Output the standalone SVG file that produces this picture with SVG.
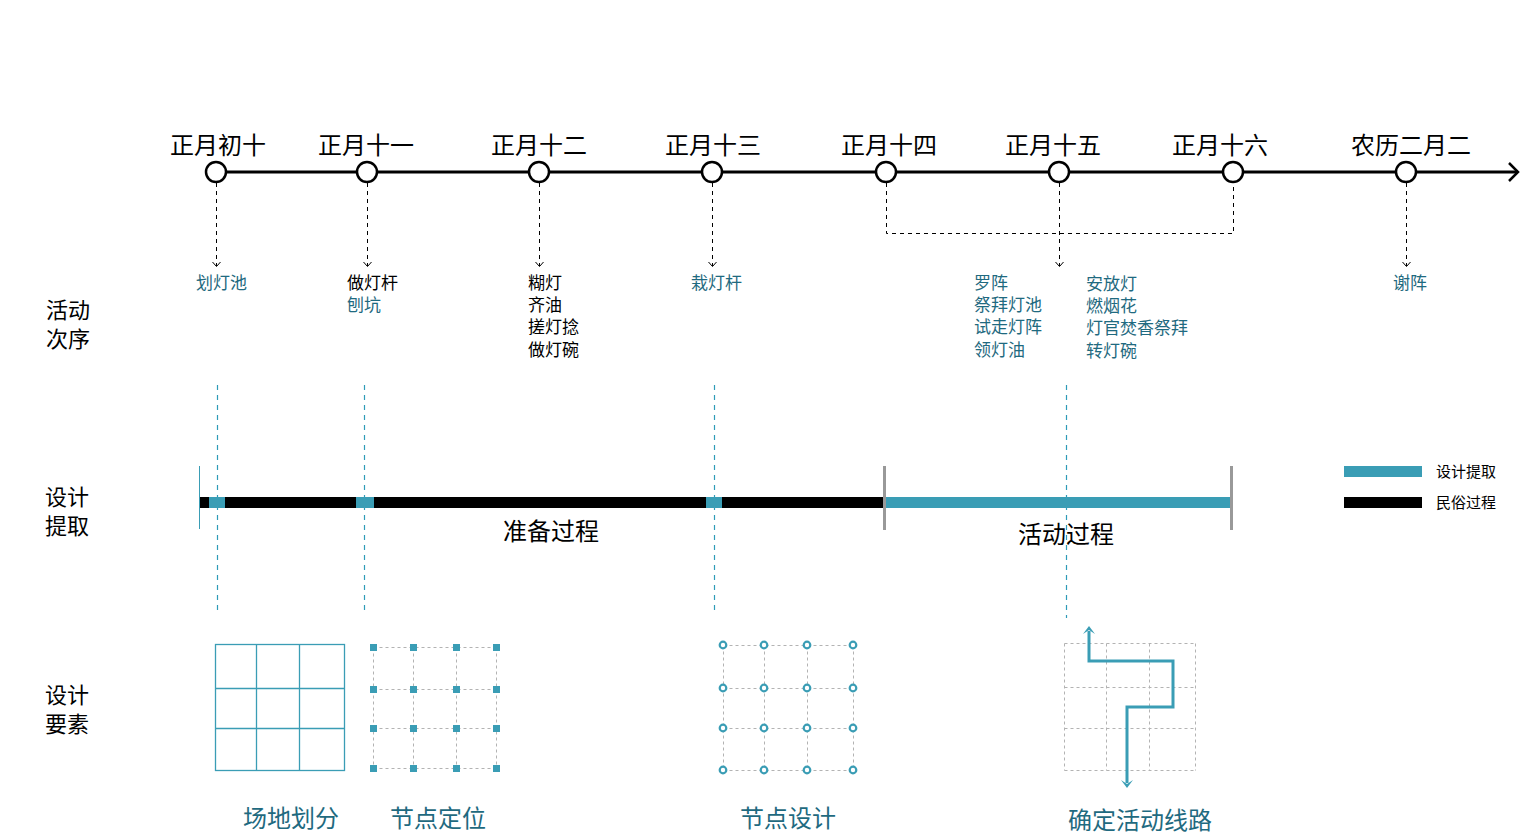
<svg xmlns="http://www.w3.org/2000/svg" width="1522" height="836" viewBox="0 0 1522 836">
<style>
text{font-family:"Noto Sans CJK SC","Noto Sans CJK JP",sans-serif;}
.date{font-size:24px;fill:#000;text-anchor:middle;}
.act{font-size:17px;fill:#1f6a80;}
.actb{font-size:17px;fill:#000;}
.side{font-size:22px;fill:#000;}
.proc{font-size:24px;fill:#000;text-anchor:middle;}
.leg{font-size:15px;fill:#000;}
.cap{font-size:24px;fill:#1f6a80;text-anchor:middle;}
.node{fill:#fff;stroke:#000;stroke-width:2.5;}
.dash{fill:none;stroke:#000;stroke-width:1;stroke-dasharray:4 4;}
.chev{fill:none;stroke:#000;stroke-width:1;}
.tdash{fill:none;stroke:#2f9bb8;stroke-width:1.2;stroke-dasharray:5 5;}
.gdash{fill:none;stroke:#b3b3b3;stroke-width:1;stroke-dasharray:3 3;}
.tick{stroke:#999;stroke-width:3;}
.grid{fill:none;stroke:#3a9db5;stroke-width:1.3;}
.sq{fill:#3a9db5;}
.ring{fill:#fff;stroke:#3a9db5;stroke-width:2.2;}
.tarr{fill:#3a9db5;}
</style>
<rect width="1522" height="836" fill="#fff"/>

<g id="connectors">
<line x1="216" y1="172" x2="1518" y2="172" stroke="#000" stroke-width="3"/>
<path d="M1509,163 L1518,172 L1509,181" fill="none" stroke="#000" stroke-width="2.5"/>
<path class="dash" d="M216.5,183 V266 M367.5,183 V266 M539.5,183 V266 M712.5,183 V266 M1059.5,183 V266 M1406.5,183 V266"/>
<path class="chev" d="M212.5,262 L216.5,266.5 L220.5,262 M363.5,262 L367.5,266.5 L371.5,262 M535.5,262 L539.5,266.5 L543.5,262 M708.5,262 L712.5,266.5 L716.5,262 M1055.5,262 L1059.5,266.5 L1063.5,262 M1402.5,262 L1406.5,266.5 L1410.5,262"/>
<path class="dash" d="M886.5,183 V233.5 H1233.5 V183"/>
<path class="tdash" d="M217.5,385 V615 M364.5,385 V615 M714.5,385 V615 M1066.5,385 V618"/>
</g>

<g id="dates">
<g id="d1"><circle class="node" cx="216" cy="172" r="10"/><text class="date" x="218" y="154">正月初十</text></g>
<g id="d2"><circle class="node" cx="367" cy="172" r="10"/><text class="date" x="366" y="154">正月十一</text></g>
<g id="d3"><circle class="node" cx="539" cy="172" r="10"/><text class="date" x="539" y="154">正月十二</text></g>
<g id="d4"><circle class="node" cx="712" cy="172" r="10"/><text class="date" x="713" y="154">正月十三</text></g>
<g id="d5"><circle class="node" cx="886" cy="172" r="10"/><text class="date" x="889" y="154">正月十四</text></g>
<g id="d6"><circle class="node" cx="1059" cy="172" r="10"/><text class="date" x="1053" y="154">正月十五</text></g>
<g id="d7"><circle class="node" cx="1233" cy="172" r="10"/><text class="date" x="1220" y="154">正月十六</text></g>
<g id="d8"><circle class="node" cx="1406" cy="172" r="10"/><text class="date" x="1411" y="154">农历二月二</text></g>
</g>

<g id="activities">
<text class="act" x="196" y="289">划灯池</text>
<text class="actb" x="347" y="289">做灯杆</text>
<text class="act" x="347" y="311">刨坑</text>
<text class="actb" x="528" y="289">糊灯</text>
<text class="actb" x="528" y="311">齐油</text>
<text class="actb" x="528" y="333">搓灯捻</text>
<text class="actb" x="528" y="356">做灯碗</text>
<text class="act" x="691" y="289">栽灯杆</text>
<text class="act" x="974" y="289">罗阵</text>
<text class="act" x="974" y="311">祭拜灯池</text>
<text class="act" x="974" y="333">试走灯阵</text>
<text class="act" x="974" y="356">领灯油</text>
<text class="act" x="1086" y="290">安放灯</text>
<text class="act" x="1086" y="312">燃烟花</text>
<text class="act" x="1086" y="334">灯官焚香祭拜</text>
<text class="act" x="1086" y="357">转灯碗</text>
<text class="act" x="1393" y="289">谢阵</text>
</g>

<g id="side-labels">
<text class="side" x="46" y="318">活动</text>
<text class="side" x="46" y="347">次序</text>
<text class="side" x="45" y="505">设计</text>
<text class="side" x="45" y="534">提取</text>
<text class="side" x="45" y="703">设计</text>
<text class="side" x="45" y="732">要素</text>
</g>

<g id="bar">
<line x1="199.5" y1="466" x2="199.5" y2="529" stroke="#3a9db5" stroke-width="1"/>
<rect x="200" y="497" width="684" height="11" fill="#000"/>
<rect x="209" y="497" width="16" height="11" fill="#3a9db5"/>
<rect x="356" y="497" width="18" height="11" fill="#3a9db5"/>
<rect x="706" y="497" width="16" height="11" fill="#3a9db5"/>
<rect x="884" y="497" width="347" height="11" fill="#3a9db5"/>
<line class="tick" x1="884.5" y1="466" x2="884.5" y2="530"/>
<line class="tick" x1="1231.5" y1="466" x2="1231.5" y2="530"/>
<text class="proc" x="551" y="540">准备过程</text>
<text class="proc" x="1066" y="543">活动过程</text>
</g>

<g id="legend">
<rect x="1344" y="466" width="78" height="11" fill="#3a9db5"/>
<text class="leg" x="1436" y="477">设计提取</text>
<rect x="1344" y="497" width="78" height="11" fill="#000"/>
<text class="leg" x="1436" y="508">民俗过程</text>
</g>

<g id="site-division">
<rect class="grid" x="215.5" y="644.5" width="129" height="126"/>
<path class="grid" d="M256.5,644.5 V770.5 M299.5,644.5 V770.5 M215.5,688.5 H344.5 M215.5,728.5 H344.5"/>
<text class="cap" x="291" y="827">场地划分</text>
</g>

<g id="node-position">
<path class="gdash" d="M373.5,647.5 H496.5 M373.5,689.5 H496.5 M373.5,728.5 H496.5 M373.5,768.5 H496.5 M373.5,647.5 V768.5 M413.5,647.5 V768.5 M456.5,647.5 V768.5 M496.5,647.5 V768.5"/>
<g class="sq">
<rect x="370" y="644" width="7" height="7"/><rect x="410" y="644" width="7" height="7"/><rect x="453" y="644" width="7" height="7"/><rect x="493" y="644" width="7" height="7"/>
<rect x="370" y="686" width="7" height="7"/><rect x="410" y="686" width="7" height="7"/><rect x="453" y="686" width="7" height="7"/><rect x="493" y="686" width="7" height="7"/>
<rect x="370" y="725" width="7" height="7"/><rect x="410" y="725" width="7" height="7"/><rect x="453" y="725" width="7" height="7"/><rect x="493" y="725" width="7" height="7"/>
<rect x="370" y="765" width="7" height="7"/><rect x="410" y="765" width="7" height="7"/><rect x="453" y="765" width="7" height="7"/><rect x="493" y="765" width="7" height="7"/>
</g>
<text class="cap" x="438" y="827">节点定位</text>
</g>

<g id="node-design">
<path class="gdash" d="M723.5,645.5 H853.5 M723.5,688.5 H853.5 M723.5,728.5 H853.5 M723.5,770.5 H853.5 M723.5,645.5 V770.5 M764.5,645.5 V770.5 M807.5,645.5 V770.5 M853.5,645.5 V770.5"/>
<circle class="ring" cx="723" cy="645" r="3.3"/><circle class="ring" cx="764" cy="645" r="3.3"/><circle class="ring" cx="807" cy="645" r="3.3"/><circle class="ring" cx="853" cy="645" r="3.3"/>
<circle class="ring" cx="723" cy="688" r="3.3"/><circle class="ring" cx="764" cy="688" r="3.3"/><circle class="ring" cx="807" cy="688" r="3.3"/><circle class="ring" cx="853" cy="688" r="3.3"/>
<circle class="ring" cx="723" cy="728" r="3.3"/><circle class="ring" cx="764" cy="728" r="3.3"/><circle class="ring" cx="807" cy="728" r="3.3"/><circle class="ring" cx="853" cy="728" r="3.3"/>
<circle class="ring" cx="723" cy="770" r="3.3"/><circle class="ring" cx="764" cy="770" r="3.3"/><circle class="ring" cx="807" cy="770" r="3.3"/><circle class="ring" cx="853" cy="770" r="3.3"/>
<text class="cap" x="788" y="827">节点设计</text>
</g>

<g id="route">
<path class="gdash" d="M1064.5,643.5 H1195.5 M1064.5,687.5 H1195.5 M1064.5,728.5 H1195.5 M1064.5,770.5 H1195.5 M1064.5,643.5 V770.5 M1106.5,643.5 V770.5 M1149.5,643.5 V770.5 M1195.5,643.5 V770.5"/>
<path d="M1089,631 V661 H1173 V707 H1127 V783" fill="none" stroke="#3a9db5" stroke-width="3"/>
<path class="tarr" d="M1083,634 L1089,626 L1095,634 L1089,630 Z"/>
<path class="tarr" d="M1121,780 L1127,788 L1133,780 L1127,784 Z"/>
<text class="cap" x="1140" y="829">确定活动线路</text>
</g>
</svg>
